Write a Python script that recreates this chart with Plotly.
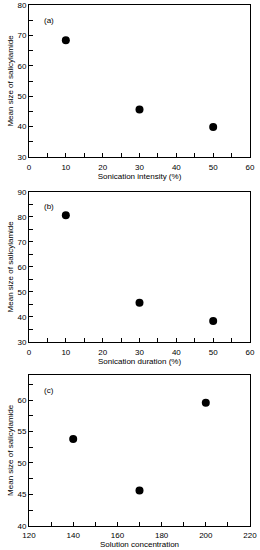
import plotly.graph_objects as go
from plotly.subplots import make_subplots

# Data
intensity = [10, 30, 50]
size_intensity = [68.4, 45.6, 39.9]
duration = [10, 30, 50]
size_duration = [80.6, 45.7, 38.4]
concentration = [140, 170, 200]
size_concentration = [53.8, 45.6, 59.6]

x_titles = ["Sonication intensity (%)", "Sonication duration (%)", "Solution concentration"]
y_title = "Mean size of salicylamide"
labels = ["(a)", "(b)", "(c)"]

fig = make_subplots(rows=3, cols=1)

xs = [intensity, duration, concentration]
ys = [size_intensity, size_duration, size_concentration]
for i in range(3):
    fig.add_trace(go.Scatter(x=xs[i], y=ys[i], mode="markers",
                             marker=dict(color="black", size=8),
                             showlegend=False), row=i + 1, col=1)

font = dict(family="Liberation Sans, Arial", size=8, color="black")
axis_common = dict(showline=True, linecolor="black", linewidth=1, mirror=True,
                   ticks="inside", ticklen=4, tickcolor="black", showgrid=False,
                   zeroline=False, tickfont=font, automargin=False)

x_domain = [29 / 260, 250 / 260]
y_domains = [[1 - 157 / 550, 1 - 5 / 550],
             [1 - 342 / 550, 1 - 191.7 / 550],
             [1 - 525.7 / 550, 1 - 375 / 550]]
x_ranges = [[0, 60], [0, 60], [120, 220]]
x_dticks = [10, 10, 20]
x_minor = [5, 5, 10]
y_ranges = [[30, 80], [30, 90], [40, 64]]
y_dticks = [10, 10, 5]
y_minor = [5, 5, 2.5]
y_tick0 = [30, 30, 40]

layout = dict(width=260, height=550, margin=dict(l=0, r=0, t=0, b=0),
              paper_bgcolor="white", plot_bgcolor="white", font=font)
for i in range(3):
    n = "" if i == 0 else str(i + 1)
    layout["xaxis" + n] = dict(axis_common, domain=x_domain, range=x_ranges[i],
                               dtick=x_dticks[i], tick0=x_ranges[i][0],
                               minor=dict(dtick=x_minor[i], ticks="inside", ticklen=4, tickcolor="black"),
                               title=dict(text=x_titles[i], font=font, standoff=2),
                               ticklabelstandoff=2)
    layout["yaxis" + n] = dict(axis_common, domain=y_domains[i], range=y_ranges[i],
                               dtick=y_dticks[i], tick0=y_tick0[i],
                               minor=dict(dtick=y_minor[i], tick0=y_tick0[i], ticks="inside", ticklen=4, tickcolor="black"),
                               title=dict(text=y_title, font=font, standoff=2))
fig.update_layout(**layout)

for i in range(3):
    n = "" if i == 0 else str(i + 1)
    fig.add_annotation(text=labels[i], xref="x" + n + " domain", yref="y" + n + " domain",
                       x=0.06, y=0.9, xanchor="left", yanchor="middle",
                       showarrow=False, font=font)

fig.write_html("out.html", config={"displayModeBar": False},
               post_script="document.body.style.margin='0';document.body.style.overflow='hidden';")
